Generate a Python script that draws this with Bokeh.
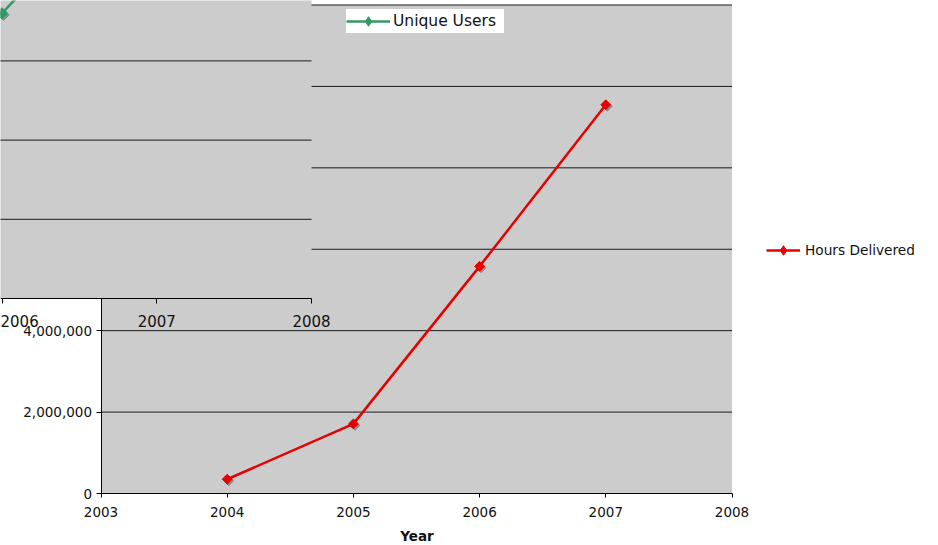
import numpy as np
from bokeh.plotting import figure
from bokeh.models import (Range1d, LinearAxis, FixedTicker, NumeralTickFormatter,
                          Legend, LegendItem)
from bokeh.transform import dodge
from bokeh.embed import file_html
from bokeh.resources import INLINE

# ---------------- data ----------------
# main chart: Hours Delivered
years = [2004, 2005, 2006, 2007]
hours_delivered = [350000, 1710000, 5580000, 9550000]
x_ticks = [2003, 2004, 2005, 2006, 2007, 2008]
y_ticks = [0, 2000000, 4000000, 6000000, 8000000, 10000000, 12000000]

# overlapping (cropped) inset chart: Unique Users
inset_years = [2006, 2007]
unique_users = [180000, 285000]
inset_x_ticks = [2005, 2006, 2007, 2008]
inset_y_ticks = [0, 50000, 100000, 150000, 200000, 250000, 300000]

# ---------------- layout geometry ----------------
W, H = 938, 545
FONT = "DejaVu Sans"
TXT = "#111111"
BG = "#cccccc"
GRID = "#1a1a1a"
RED = "#e60000"
GREEN = "#339966"

# main chart: 2003 -> px 100.5, 2008 -> px 731.5 ; 0 -> py 493, 12M -> py 4.5
ppy = (731.5 - 100.5) / 5.0
x_start = 2003 - 100.5 / ppy
x_end = 2003 + (W - 100.5) / ppy
vpp = 12e6 / (493 - 4.5)
y_start = -(H - 493) * vpp
y_end = 493 * vpp

# inset chart: 2006 -> px 1.5, 2008 -> px 311 ; 0 -> py 298, 50k per 79 px
ippy = (311 - 1.5) / 2.0
ix_start = 2006 - 1.5 / ippy
ix_end = ix_start + W / ippy
ivpp = 50000 / 79.2
iy_start = -(H - 298) * ivpp
iy_end = 298 * ivpp

p = figure(width=W, height=H, x_range=Range1d(x_start, x_end), y_range=Range1d(y_start, y_end),
           output_backend="svg", toolbar_location=None, x_axis_location=None,
           y_axis_location=None, min_border=0, title=None)
p.outline_line_color = None
p.grid.visible = False
p.background_fill_color = "white"
p.border_fill_color = "white"
p.extra_x_ranges = {"ix": Range1d(ix_start, ix_end)}
p.extra_y_ranges = {"iy": Range1d(iy_start, iy_end)}

# ---- main plot area ----
p.quad(left=[x_ticks[0]], right=[x_ticks[-1]], bottom=[y_ticks[0]], top=[y_ticks[-1]],
       fill_color=BG, line_color=None, level="image")
p.segment(x0=x_ticks[0], x1=x_ticks[-1], y0=y_ticks[1:], y1=y_ticks[1:],
          line_color=GRID, line_width=1, level="image")

def style_axis(ax, size, tick_out, standoff):
    ax.axis_line_color = "black"
    ax.axis_line_width = 1
    ax.major_tick_line_color = "black"
    ax.major_tick_in = 0
    ax.major_tick_out = tick_out
    ax.minor_tick_line_color = None
    ax.major_label_text_font = FONT
    ax.major_label_text_font_size = size
    ax.major_label_text_color = TXT
    ax.major_label_standoff = standoff

xa = LinearAxis(fixed_location=0, bounds=(x_ticks[0], x_ticks[-1]),
                ticker=FixedTicker(ticks=x_ticks), axis_label="Year", level="underlay")
style_axis(xa, "13.5px", 4, 9)
xa.axis_label_text_font = FONT
xa.axis_label_text_font_size = "13.5px"
xa.axis_label_text_font_style = "bold"
xa.axis_label_text_color = TXT
xa.axis_label_standoff = 8
p.add_layout(xa, "below")

ya = LinearAxis(fixed_location=x_ticks[0], bounds=(y_ticks[0], y_ticks[-1]),
                ticker=FixedTicker(ticks=y_ticks), formatter=NumeralTickFormatter(format="0,0"),
                level="underlay")
style_axis(ya, "13.5px", 5, 4)
# the top label sits under the overlapping inset and past the page edge
ya.major_label_overrides = {y_ticks[-1]: ""}
p.add_layout(ya, "left")

# ---- main series ----
src_h = dict(x=years, y=hours_delivered)
p.scatter(x=dodge("x", 1.5 / ppy), y=dodge("y", -1.5 * vpp), source=src_h,
          marker="square", angle=np.pi / 4, size=7,
          fill_color="#808080", line_color="#808080", fill_alpha=0.8, line_alpha=0.8)
rline = p.line("x", "y", source=src_h, line_color=RED, line_width=2.5)
rleg = p.scatter("x", "y", source=src_h, marker="diamond", size=6,
                 fill_color=RED, line_color=RED)
p.scatter("x", "y", source=src_h, marker="square", angle=np.pi / 4, size=7,
          fill_color=RED, line_color=RED)

# ---- inset chart (drawn on top) ----
p.quad(left=[inset_x_ticks[0]], right=[inset_x_ticks[-1]],
       bottom=[inset_y_ticks[0]], top=[inset_y_ticks[-1]],
       x_range_name="ix", y_range_name="iy", fill_color=BG, line_color=None)
p.segment(x0=inset_x_ticks[0], x1=inset_x_ticks[-1], y0=inset_y_ticks[1:], y1=inset_y_ticks[1:],
          x_range_name="ix", y_range_name="iy", line_color=GRID, line_width=1)
src_u = dict(x=inset_years, y=unique_users)
p.scatter(x=dodge("x", 1.5 / ippy), y=dodge("y", -1.5 * ivpp), source=src_u,
          x_range_name="ix", y_range_name="iy",
          marker="square", angle=np.pi / 4, size=8,
          fill_color="#808080", line_color="#808080", fill_alpha=0.8, line_alpha=0.8)
gline = p.line("x", "y", source=src_u, x_range_name="ix", y_range_name="iy",
               line_color=GREEN, line_width=2.5)
gleg = p.scatter("x", "y", source=src_u, x_range_name="ix", y_range_name="iy",
                 marker="diamond", size=6, fill_color=GREEN, line_color=GREEN)
p.scatter("x", "y", source=src_u, x_range_name="ix", y_range_name="iy",
          marker="square", angle=np.pi / 4, size=8, fill_color=GREEN, line_color=GREEN)

ia = LinearAxis(x_range_name="ix", y_range_name="iy", fixed_location=0,
                bounds=(inset_x_ticks[0], inset_x_ticks[-1]),
                ticker=FixedTicker(ticks=inset_x_ticks))
style_axis(ia, "15px", 5, 11)
p.add_layout(ia, "below")

# ---- legends ----
def make_legend(label, rends, loc, size, gw, standoff, lw):
    lg = Legend(items=[LegendItem(label=label, renderers=rends)], location=loc,
                orientation="vertical", margin=0, padding=1, spacing=0,
                glyph_width=gw, glyph_height=24, label_height=24, label_standoff=standoff,
                label_width=lw,
                label_text_font=FONT, label_text_font_size=size, label_text_color=TXT,
                border_line_color=None, background_fill_color="white",
                background_fill_alpha=1.0)
    p.add_layout(lg, "center")

make_legend("Hours Delivered", [rline, rleg], (766, H - 262), "13.7px", 34, 5, 20)
make_legend("Unique Users", [gline, gleg], (346, H - 33), "15.5px", 44, 3, 111)

open("out.html", "w").write(file_html(p, INLINE))
